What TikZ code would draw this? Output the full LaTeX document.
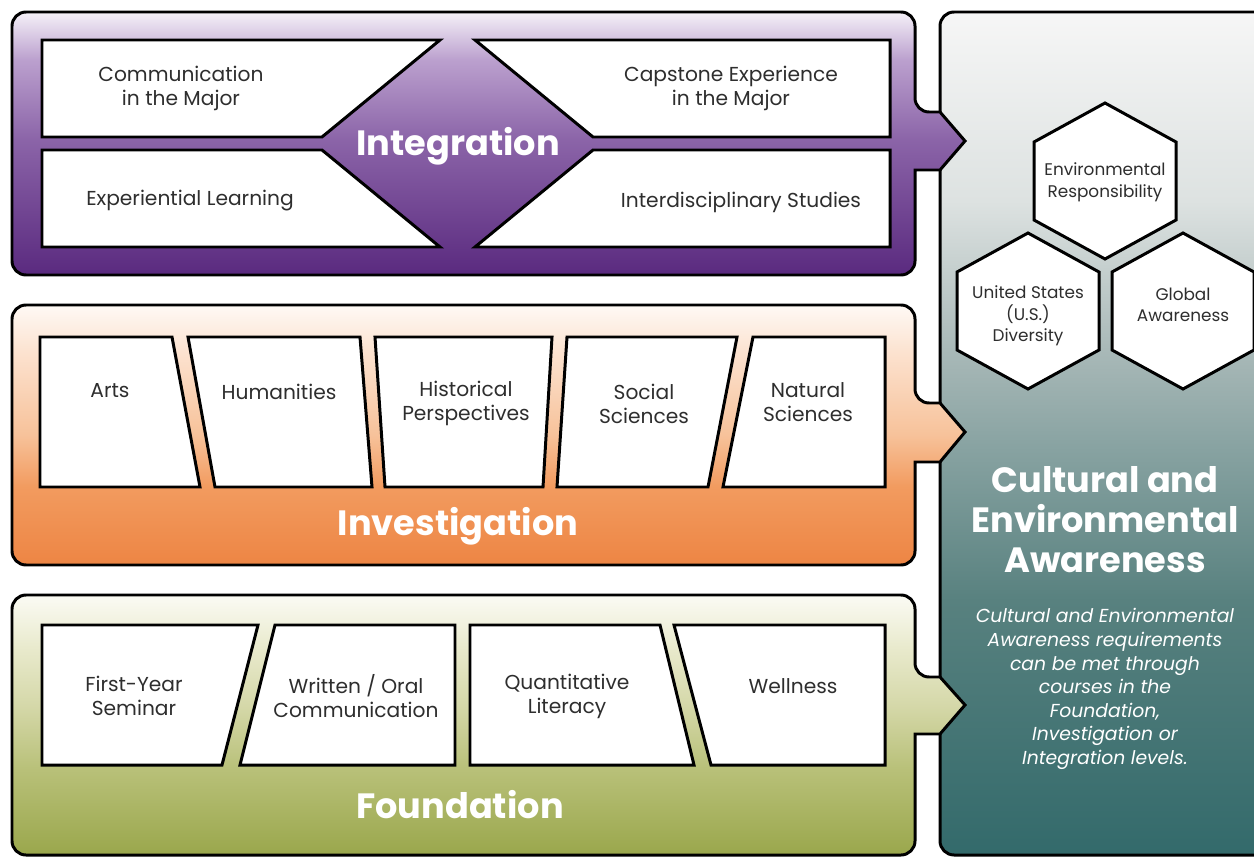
\documentclass[tikz,border=0pt]{standalone}
\usepackage{fontspec}
\setmainfont{Poppins}

\definecolor{ink}{HTML}{2E2E2E}
\definecolor{intA}{HTML}{F5F1F8}
\definecolor{intB}{HTML}{BBA0CE}
\definecolor{intC}{HTML}{8B64A8}
\definecolor{intD}{HTML}{5A2A7F}
\definecolor{invA}{HTML}{FEF9F5}
\definecolor{invB}{HTML}{FCE2CF}
\definecolor{invC}{HTML}{F7C29A}
\definecolor{invD}{HTML}{F29B5F}
\definecolor{invE}{HTML}{ED8544}
\definecolor{fndA}{HTML}{FBFBF4}
\definecolor{fndB}{HTML}{E8E9CB}
\definecolor{fndC}{HTML}{D5D8A9}
\definecolor{fndD}{HTML}{B8C078}
\definecolor{fndE}{HTML}{9AA74C}
\definecolor{ceaA}{HTML}{F6F6F6}
\definecolor{ceaB}{HTML}{DDE2E1}
\definecolor{ceaC}{HTML}{A9B9B8}
\definecolor{ceaD}{HTML}{87A2A1}
\definecolor{ceaE}{HTML}{58817F}
\definecolor{ceaF}{HTML}{336A6B}

\pgfdeclareverticalshading{intshade}{100bp}{color(0bp)=(intD); color(25bp)=(intD);
  color(50.7bp)=(intC); color(65.9bp)=(intB); color(75bp)=(intA); color(100bp)=(intA)}
\pgfdeclareverticalshading{invshade}{100bp}{color(0bp)=(invE); color(25bp)=(invE);
  color(40bp)=(invD); color(50bp)=(invC); color(65.8bp)=(invB); color(75bp)=(invA); color(100bp)=(invA)}
\pgfdeclareverticalshading{fndshade}{100bp}{color(0bp)=(fndE); color(25bp)=(fndE);
  color(41.3bp)=(fndD); color(53.8bp)=(fndC); color(64.4bp)=(fndB); color(75bp)=(fndA); color(100bp)=(fndA)}
\pgfdeclareverticalshading{ceashade}{100bp}{color(0bp)=(ceaF); color(25bp)=(ceaF);
  color(40.1bp)=(ceaE); color(49bp)=(ceaD); color(55bp)=(ceaC); color(63.8bp)=(ceaB);
  color(75bp)=(ceaA); color(100bp)=(ceaA)}

% one hexagon cell, centred on #1
\newcommand\hexcell[1]{%
  \draw[cell] (#1) ++(0,-78) -- ++(71,39) -- ++(0,78) -- ++(-71,39) -- ++(-71,-39) -- ++(0,-78) -- cycle;}

\begin{document}
\begin{tikzpicture}[
    x = 0.02cm,
    y = -0.02cm,
    band/.style = {
      draw = black,
      line width = 1.7pt,
      line join = miter
    },
    cell/.style = {
      draw = black,
      fill = white,
      line width = 1.7pt,
      line join = miter
    },
    item/.style = {
      text = ink,
      align = center,
      font = \fontsize{11.5}{13.6}\selectfont
    },
    hexitem/.style = {
      text = ink,
      align = center,
      font = \fontsize{9.6}{12.3}\selectfont
    },
    level/.style = {
      text = white,
      font = \bfseries\fontsize{20}{24}\selectfont
    }
  ]
  \clip (0,0) rectangle (1254,858);
  \fill[white] (0,0) rectangle (1254,858);

  % right panel
  \shade[band, shading=ceashade, rounded corners=8pt] (1290,12) -- (940,12) -- (940,855) -- (1290,855) -- cycle;

  % the three bands, each with its arrow
  \shade[band, shading=intshade] (12,140) [rounded corners=8pt] -- (12,12) -- (915,12) -- (915,112)
    [sharp corners] -- (940,112) -- (965,141) -- (940,170) -- (915,170)
    [rounded corners=8pt] -- (915,275) -- (12,275) -- cycle;
  \shade[band, shading=invshade] (12,430) [rounded corners=8pt] -- (12,305) -- (915,305) -- (915,403)
    [sharp corners] -- (940,403) -- (965,432) -- (940,462) -- (915,462)
    [rounded corners=8pt] -- (915,565) -- (12,565) -- cycle;
  \shade[band, shading=fndshade] (12,700) [rounded corners=8pt] -- (12,595) -- (915,595) -- (915,677)
    [sharp corners] -- (940,677) -- (965,705) -- (940,734) -- (915,734)
    [rounded corners=8pt] -- (915,855) -- (12,855) -- cycle;

  % Integration
  \draw[cell] (42,40) -- (440,40) -- (322,137) -- (42,137) -- cycle;
  \draw[cell] (42,150) -- (322,150) -- (440,247) -- (42,247) -- cycle;
  \draw[cell] (475,40) -- (890,40) -- (890,137) -- (593,137) -- cycle;
  \draw[cell] (593,150) -- (890,150) -- (890,247) -- (475,247) -- cycle;

  \node[item] (comm) at (181,88) {Communication\\in the Major};
  \node[item] (exper) at (190,201) {Experiential Learning};
  \node[item] (capst) at (731,88) {Capstone Experience\\in the Major};
  \node[item] (inter) at (741,202) {Interdisciplinary Studies};
  \node[level] (integ) at (458,146) {Integration};

  % Investigation
  \draw[cell] (40,337) -- (172,337) -- (200,487) -- (40,487) -- cycle;
  \draw[cell] (188,337) -- (360,337) -- (372,487) -- (215,487) -- cycle;
  \draw[cell] (375,337) -- (552,337) -- (543,487) -- (385,487) -- cycle;
  \draw[cell] (567,337) -- (737,337) -- (708,487) -- (557,487) -- cycle;
  \draw[cell] (753,337) -- (885,337) -- (885,487) -- (723,487) -- cycle;

  \node[item] (arts) at (110,391) {Arts};
  \node[item] (human) at (279,392) {Humanities};
  \node[item] (hist) at (466,403) {Historical\\Perspectives};
  \node[item] (social) at (644,404) {Social\\Sciences};
  \node[item] (natural) at (808,402) {Natural\\Sciences};
  \node[level] (invest) at (458,526) {Investigation};

  % Foundation
  \draw[cell] (42,625) -- (258,625) -- (222,765) -- (42,765) -- cycle;
  \draw[cell] (275,625) -- (455,625) -- (455,765) -- (240,765) -- cycle;
  \draw[cell] (470,625) -- (660,625) -- (694,765) -- (470,765) -- cycle;
  \draw[cell] (674,625) -- (885,625) -- (885,765) -- (711,765) -- cycle;

  \node[item] (fys) at (134,696) {First-Year\\Seminar};
  \node[item] (wroc) at (356,696) {Written / Oral\\Communication};
  \node[item] (quant) at (567,696) {Quantitative\\Literacy};
  \node[item] (well) at (793,686) {Wellness};
  \node[level] (found) at (460,805) {Foundation};

  % Cultural and Environmental Awareness
  \hexcell{1105,181}
  \hexcell{1028,311}
  \hexcell{1183,311}
  \node[hexitem] (envresp) at (1105,182) {Environmental\\Responsibility};
  \node[hexitem] (usdiv) at (1028,316) {United States\\(U.S.)\\Diversity};
  \node[hexitem] (global) at (1183,305) {Global\\Awareness};

  \node[level, align=center, font=\bfseries\fontsize{20}{22.7}\selectfont] (ceatitle) at (1105,520)
    {Cultural and\\Environmental\\Awareness};
  \node[text=white, align=center, font=\itshape\fontsize{10.7}{13.4}\selectfont] (ceanote) at (1105,689)
    {Cultural and Environmental\\Awareness requirements\\can be met through\\courses in the\\Foundation,\\Investigation or\\Integration levels.};
\end{tikzpicture}
\end{document}
